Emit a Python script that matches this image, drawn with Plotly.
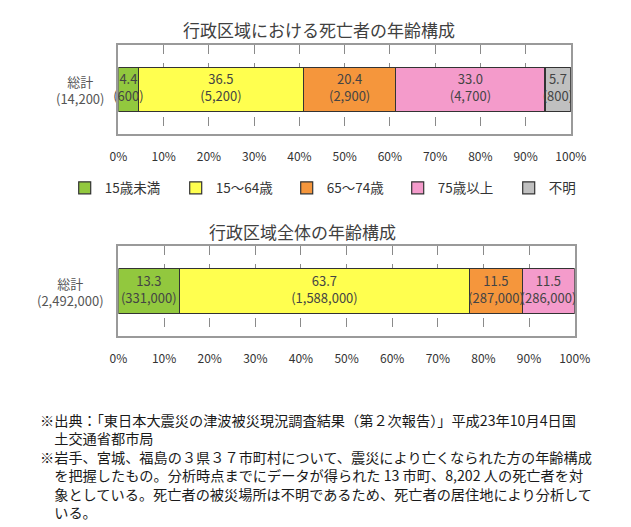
import plotly.graph_objects as go
from itertools import accumulate

W, H = 631, 527
FONT = "Noto Sans CJK JP"

# ===================== Data =====================
age_groups = ["15歳未満", "15〜64歳", "65〜74歳", "75歳以上", "不明"]
colors = ["#92C83E", "#FFFF4F", "#F5963C", "#F49BCB", "#C0C0C0"]

# 行政区域における死亡者
dead_pct = [4.4, 36.5, 20.4, 33.0, 5.7]
dead_cnt = [600, 5200, 2900, 4700, 800]
dead_total = 14200

# 行政区域全体
pop_pct = [13.3, 63.7, 11.5, 11.5]
pop_cnt = [331000, 1588000, 287000, 286000]
pop_total = 2492000

x_ticks = list(range(0, 101, 10))
x_ticktext = [f"{v}%" for v in x_ticks]

note_source = [
    "※出典：「東日本大震災の津波被災現況調査結果（第２次報告）」平成23年10月4日国",
    "土交通省都市局",
]
note_method = [
    "※岩手、宮城、福島の３県３７市町村について、震災により亡くなられた方の年齢構成",
    "を把握したもの。分析時点までにデータが得られた 13 市町、8,202 人の死亡者を対",
    "象としている。死亡者の被災場所は不明であるため、死亡者の居住地により分析して",
    "いる。",
]


def px_x(p):
    return p / W


def px_y(p):
    return 1 - p / H


def add_stack(fig, pct, cnt, xa, ya, legend):
    # bars
    for i, v in enumerate(pct):
        fig.add_trace(go.Bar(
            x=[v], y=["総計"], orientation="h", name=age_groups[i],
            marker=dict(color=colors[i], line=dict(color="#333333", width=1.2)),
            width=0.5, xaxis=xa, yaxis=ya, legendgroup=age_groups[i],
            showlegend=legend, hoverinfo="skip",
        ))
    # labels drawn on top so they can spill over narrow segments
    ends = list(accumulate(pct))
    mids = [e - v / 2 for e, v in zip(ends, pct)]
    fig.add_trace(go.Scatter(
        x=mids, y=["総計"] * len(pct), mode="text",
        text=[f"{v:.1f}<br>({c:,})" for v, c in zip(pct, cnt)],
        textposition="middle center", cliponaxis=False,
        textfont=dict(family=FONT, size=13, color="#444444"),
        xaxis=xa, yaxis=ya, showlegend=False, hoverinfo="skip",
    ))


# ===================== Figure =====================
fig = go.Figure()
add_stack(fig, dead_pct, dead_cnt, "x", "y", True)
add_stack(fig, pop_pct, pop_cnt, "x2", "y2", False)

xaxis_style = dict(
    range=[0, 100], tickmode="array", tickvals=x_ticks, ticktext=x_ticktext,
    showgrid=True, gridcolor="#8a8a8a", griddash="dash", gridwidth=1,
    showline=True, mirror=True, linecolor="#9a9a9a", linewidth=1.5,
    zeroline=False, ticks="", ticklabelstandoff=11,
    tickfont=dict(family=FONT, size=12, color="#333333"),
)
yaxis_style = dict(
    type="category", range=[-0.5, 0.5], showticklabels=False,
    showline=True, mirror=True, linecolor="#9a9a9a", linewidth=1.5,
    showgrid=False, zeroline=False,
)

fig.update_layout(
    width=W, height=H, barmode="stack",
    margin=dict(l=0, r=0, t=0, b=0),
    paper_bgcolor="white", plot_bgcolor="white",
    font=dict(family=FONT, color="#333333"),
    xaxis=dict(domain=[px_x(114), px_x(585)], anchor="y", **xaxis_style),
    yaxis=dict(domain=[px_y(134), px_y(45)], anchor="x", **yaxis_style),
    xaxis2=dict(domain=[px_x(114), px_x(589)], anchor="y2", **xaxis_style),
    yaxis2=dict(domain=[px_y(336), px_y(246)], anchor="x2", **yaxis_style),
    legend=dict(
        orientation="h", x=px_x(58), y=px_y(188), xanchor="left", yanchor="middle",
        traceorder="normal", entrywidth=66, font=dict(size=13.5, color="#333333"),
    ),
)

# ===================== Text =====================
ann = [
    dict(text="行政区域における死亡者の年齢構成", x=px_x(323), y=px_y(29),
         font=dict(size=17, color="#404040"), xanchor="center"),
    dict(text="行政区域全体の年齢構成", x=px_x(306), y=px_y(231),
         font=dict(size=17, color="#404040"), xanchor="center"),
    dict(text=f"総計<br>({dead_total:,})", x=px_x(101), y=px_y(90),
         font=dict(size=13, color="#555555"), xanchor="right", align="center"),
    dict(text=f"総計<br>({pop_total:,})", x=px_x(101), y=px_y(292),
         font=dict(size=13, color="#555555"), xanchor="right", align="center"),
    dict(text="<br>".join([note_source[0]] + ["\u3000" + t for t in note_source[1:]]),
         x=px_x(30), y=px_y(429), xanchor="left", align="left",
         font=dict(size=14.2, color="#1a1a1a")),
    dict(text="<br>".join([note_method[0]] + ["\u3000" + t for t in note_method[1:]]),
         x=px_x(30), y=px_y(484), xanchor="left", align="left",
         font=dict(size=14.2, color="#1a1a1a")),
]

for a in ann:
    fig.add_annotation(xref="paper", yref="paper", showarrow=False,
                       yanchor="middle", **a)

fig.write_html("out.html", config={"displayModeBar": False},
               post_script="document.body.style.margin='0';")
